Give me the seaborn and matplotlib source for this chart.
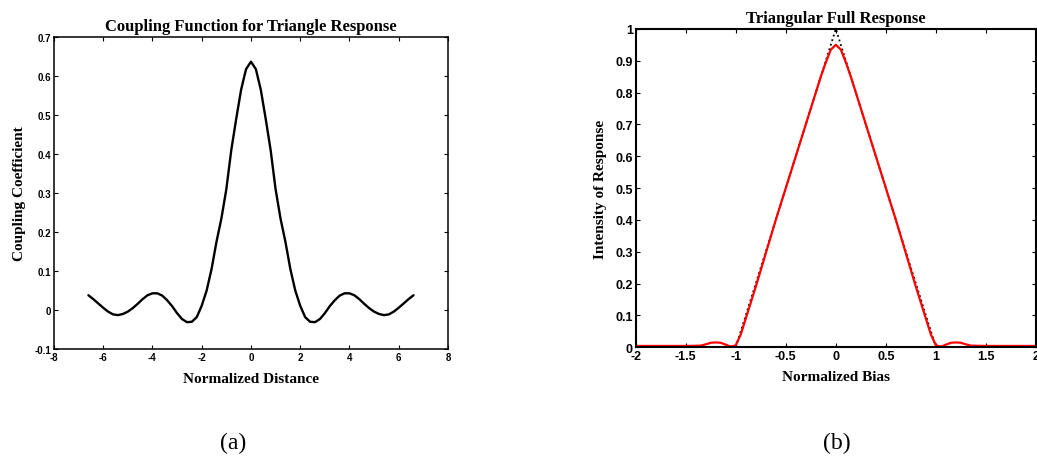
import matplotlib
matplotlib.use("Agg")
import matplotlib.pyplot as plt
import seaborn as sns
import pandas as pd

sns.set_theme(style="ticks")
plt.rcParams['font.family'] = ['Liberation Sans', 'DejaVu Sans']
plt.rcParams['text.color'] = 'black'
plt.rcParams['axes.labelcolor'] = 'black'
plt.rcParams['xtick.color'] = 'black'
plt.rcParams['ytick.color'] = 'black'

# ---- (a) coupling function ----
distance = [-6.6, -6.4, -6.2, -6.0, -5.8, -5.6, -5.4, -5.2, -5.0, -4.8, -4.6, -4.4, -4.2, -4.0,
            -3.8, -3.6, -3.4, -3.2, -3.0, -2.8, -2.6, -2.4, -2.2, -2.0, -1.8, -1.6, -1.4, -1.2,
            -1.0, -0.8, -0.6, -0.4, -0.2, 0.0, 0.2, 0.4, 0.6, 0.8, 1.0, 1.2, 1.4, 1.6, 1.8, 2.0,
            2.2, 2.4, 2.6, 2.8, 3.0, 3.2, 3.4, 3.6, 3.8, 4.0, 4.2, 4.4, 4.6, 4.8, 5.0, 5.2, 5.4,
            5.6, 5.8, 6.0, 6.2, 6.4, 6.6]
coupling = [0.038, 0.028, 0.017, 0.006, -0.004, -0.011, -0.013, -0.010, -0.004, 0.005, 0.016,
            0.028, 0.038, 0.043, 0.043, 0.037, 0.025, 0.010, -0.008, -0.023, -0.031, -0.030,
            -0.018, 0.011, 0.050, 0.105, 0.175, 0.235, 0.310, 0.410, 0.490, 0.565, 0.618, 0.637,
            0.618, 0.565, 0.490, 0.410, 0.310, 0.235, 0.175, 0.105, 0.050, 0.011, -0.018, -0.030,
            -0.031, -0.023, -0.008, 0.010, 0.025, 0.037, 0.043, 0.043, 0.038, 0.028, 0.016, 0.005,
            -0.004, -0.010, -0.013, -0.011, -0.004, 0.006, 0.017, 0.028, 0.038]

# ---- (b) triangular full response ----
ideal_bias = [-2.0, -1.0, 0.0, 1.0, 2.0]
ideal_resp = [0.0, 0.0, 1.0, 0.0, 0.0]
full_bias = [-2.0, -1.5, -1.35, -1.3, -1.25, -1.2, -1.15, -1.1, -1.05, -1.0, -0.95, -0.9, -0.8,
             -0.7, -0.6, -0.5, -0.4, -0.3, -0.2, -0.15, -0.1, -0.05, 0.0, 0.05, 0.1, 0.15, 0.2,
             0.3, 0.4, 0.5, 0.6, 0.7, 0.8, 0.9, 0.95, 1.0, 1.05, 1.1, 1.15, 1.2, 1.25, 1.3, 1.35,
             1.5, 2.0]
full_resp = [0.004, 0.004, 0.005, 0.009, 0.014, 0.015, 0.014, 0.008, 0.002, 0.006, 0.040, 0.090,
             0.190, 0.295, 0.400, 0.500, 0.600, 0.700, 0.800, 0.850, 0.895, 0.935, 0.950, 0.935,
             0.895, 0.850, 0.800, 0.700, 0.600, 0.500, 0.400, 0.295, 0.190, 0.090, 0.040, 0.006,
             0.002, 0.008, 0.014, 0.015, 0.014, 0.009, 0.005, 0.004, 0.004]

xticks_a = [-8, -6, -4, -2, 0, 2, 4, 6, 8]
yticks_a = [-0.1, 0, 0.1, 0.2, 0.3, 0.4, 0.5, 0.6, 0.7]
yticklabels_a = ['-0.1', '0', '0.1', '0.2', '0.3', '0.4', '0.5', '0.6', '0.7']
xticks_b = [-2, -1.5, -1, -0.5, 0, 0.5, 1, 1.5, 2]
xticklabels_b = ['-2', '-1.5', '-1', '-0.5', '0', '0.5', '1', '1.5', '2']
yticks_b = [0, 0.1, 0.2, 0.3, 0.4, 0.5, 0.6, 0.7, 0.8, 0.9, 1]
yticklabels_b = ['0', '0.1', '0.2', '0.3', '0.4', '0.5', '0.6', '0.7', '0.8', '0.9', '1']

df_a = pd.DataFrame({'x': distance, 'y': coupling})
df_ideal = pd.DataFrame({'x': ideal_bias, 'y': ideal_resp})
df_full = pd.DataFrame({'x': full_bias, 'y': full_resp})

fig = plt.figure(figsize=(10.37, 4.6), dpi=100)
ax1 = fig.add_axes([0.052, 0.239, 0.380, 0.678])
ax2 = fig.add_axes([0.613, 0.243, 0.386, 0.692])

sns.lineplot(data=df_a, x='x', y='y', ax=ax1, color='black', linewidth=1.7,
             sort=False, estimator=None)
sns.lineplot(data=df_ideal, x='x', y='y', ax=ax2, color='black', linewidth=1.3,
             linestyle=':', sort=False, estimator=None)
sns.lineplot(data=df_full, x='x', y='y', ax=ax2, color='red', linewidth=1.6,
             sort=False, estimator=None)

serif = ['Liberation Serif', 'DejaVu Serif']

ax1.set_xlim(-8, 8)
ax1.set_ylim(-0.1, 0.7)
ax1.set_xticks(xticks_a, [str(v) for v in xticks_a], fontsize=7, fontweight='bold')
ax1.set_yticks(yticks_a, yticklabels_a, fontsize=7, fontweight='bold')
ax1.set_title('Coupling Function for Triangle Response', fontfamily=serif,
              fontweight='bold', fontsize=12, pad=5, color='black')
ax1.set_xlabel('Normalized Distance', fontfamily=serif, fontweight='bold', fontsize=11, labelpad=7)
ax1.set_ylabel('Coupling Coefficient', fontfamily=serif, fontweight='bold', fontsize=11, labelpad=6)

ax2.set_xlim(-2, 2)
ax2.set_ylim(0, 1)
ax2.set_xticks(xticks_b, xticklabels_b, fontsize=9, fontweight='bold')
ax2.set_yticks(yticks_b, yticklabels_b, fontsize=9, fontweight='bold')
ax2.set_title('Triangular Full Response', fontfamily=serif, fontweight='bold', fontsize=12,
              pad=5, color='black')
ax2.set_xlabel('Normalized Bias', fontfamily=serif, fontweight='bold', fontsize=11, labelpad=6)
ax2.set_ylabel('Intensity of Response', fontfamily=serif, fontweight='bold', fontsize=11, labelpad=6)

for ax, lw in ((ax1, 1.1), (ax2, 1.5)):
    ax.tick_params(direction='in', top=True, right=True, length=3, width=0.8,
                   colors='black', pad=2)
    for s in ax.spines.values():
        s.set_visible(True)
        s.set_linewidth(lw)
        s.set_color('black')
    ax.grid(False)

fig.text(0.225, 0.035, '(a)', fontfamily=serif, fontsize=17, ha='center', va='center')
fig.text(0.807, 0.035, '(b)', fontfamily=serif, fontsize=17, ha='center', va='center')

fig.savefig('out.png', dpi=100, facecolor='white')
